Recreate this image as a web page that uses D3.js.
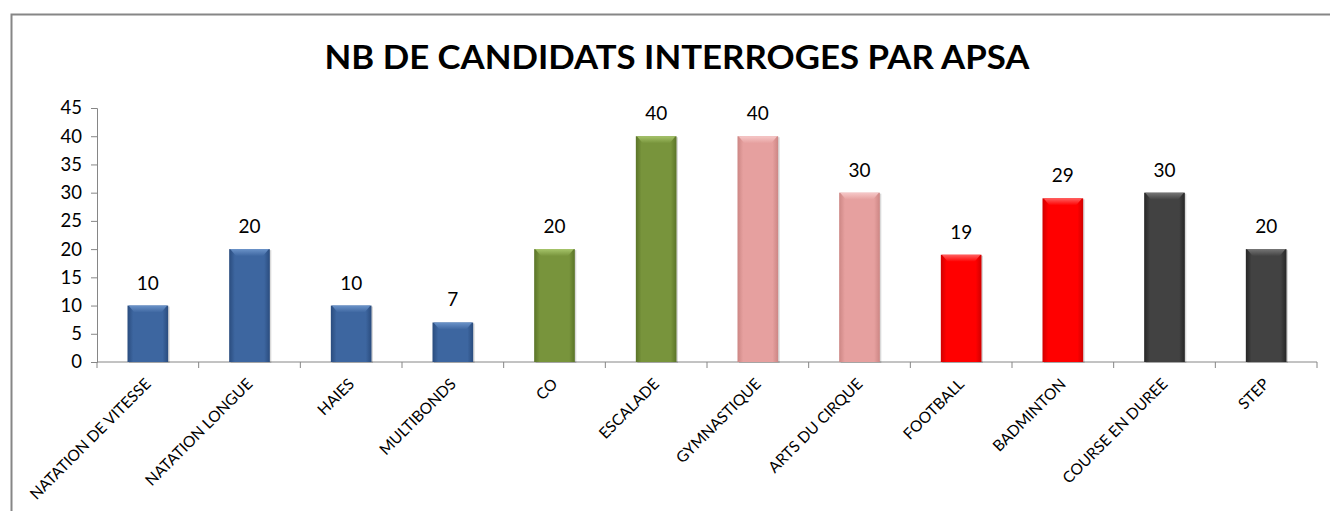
<!DOCTYPE html>
<html><head><meta charset="utf-8">
<script src="https://cdn.jsdelivr.net/npm/d3@7"></script>
<style>html,body{margin:0;padding:0;background:#fff;}svg{display:block;}</style>
</head><body>
<svg id="c" width="1330" height="511"></svg>
<script>
const categories = ["NATATION DE VITESSE","NATATION LONGUE","HAIES","MULTIBONDS","CO","ESCALADE","GYMNASTIQUE","ARTS DU CIRQUE","FOOTBALL","BADMINTON","COURSE EN DUREE","STEP"];
const values = [10,20,10,7,20,40,40,30,19,29,30,20];
const groups = ["blue","blue","blue","blue","green","green","pink","pink","red","red","gray","gray"];
const yTicks = [0,5,10,15,20,25,30,35,40,45];
const title = "NB DE CANDIDATS INTERROGES PAR APSA";

const palette = {
  blue: {edge:"#2A4C7E", mid:"#3D66A0", bevel:"#6A92C8"},
  green:{edge:"#5A7428", mid:"#78943C", bevel:"#A6C46A"},
  pink: {edge:"#CC8684", mid:"#E6A09F", bevel:"#F6C8C8"},
  red:  {edge:"#D00000", mid:"#FF0000", bevel:"#FF6060"},
  gray: {edge:"#262626", mid:"#424242", bevel:"#767676"}
};

const svg = d3.select("#c");
const font = "Lato, 'Open Sans', sans-serif";

// border
svg.append("rect").attr("x",11.5).attr("y",14.5).attr("width",1340).attr("height",520)
  .attr("fill","#fff").attr("stroke","#868686").attr("stroke-width",2);

const defs = svg.append("defs");
Object.entries(palette).forEach(([k,c])=>{
  const g = defs.append("linearGradient").attr("id","g-"+k).attr("x1","0").attr("x2","1").attr("y1","0").attr("y2","0");
  g.append("stop").attr("offset","0").attr("stop-color",c.edge);
  g.append("stop").attr("offset","0.14").attr("stop-color",c.mid);
  g.append("stop").attr("offset","0.86").attr("stop-color",c.mid);
  g.append("stop").attr("offset","1").attr("stop-color",c.edge);
  const b = defs.append("linearGradient").attr("id","b-"+k).attr("x1","0").attr("x2","0").attr("y1","0").attr("y2","1");
  b.append("stop").attr("offset","0").attr("stop-color",c.bevel);
  b.append("stop").attr("offset","1").attr("stop-color",c.mid);
});

const x = d3.scaleBand().domain(categories).range([97,1317]).paddingInner(0.6).paddingOuter(0.3);
const y = d3.scaleLinear().domain([0,45]).range([362,108]);

// title
svg.append("text").attr("x",677).attr("y",69).attr("text-anchor","middle")
  .attr("font-family",font).attr("font-weight","bold").attr("font-size",32)
  .attr("textLength",705).attr("lengthAdjust","spacingAndGlyphs")
  .attr("fill","#000").text(title);

// y axis
const yAxis = svg.append("g").attr("transform","translate(97,0)")
  .call(d3.axisLeft(y).tickValues(yTicks).tickSize(6).tickPadding(9));
yAxis.select(".domain").attr("stroke","#868686");
yAxis.selectAll(".tick line").attr("stroke","#868686");
yAxis.selectAll(".tick text").attr("font-family",font).attr("font-size",18.5).attr("fill","#000");

// x axis baseline + boundary ticks
const step = x.step();
const xg = svg.append("g");
xg.append("line").attr("x1",97).attr("x2",1317).attr("y1",y(0)).attr("y2",y(0)).attr("stroke","#868686");
d3.range(categories.length+1).forEach(i=>{
  const xx = 97 + i*step;
  xg.append("line").attr("x1",xx).attr("x2",xx).attr("y1",y(0)).attr("y2",y(0)+6).attr("stroke","#868686");
});

// bars
const bars = svg.append("g").selectAll("g").data(categories).join("g");
bars.append("rect")
  .attr("x",d=>x(d)+1.5).attr("y",(d,i)=>y(values[i])+1)
  .attr("width",x.bandwidth()).attr("height",(d,i)=>y(0)-y(values[i]))
  .attr("fill","rgba(0,0,0,0.15)");
bars.append("rect")
  .attr("x",d=>x(d)).attr("y",(d,i)=>y(values[i]))
  .attr("width",x.bandwidth()).attr("height",(d,i)=>y(0)-y(values[i]))
  .attr("fill",(d,i)=>`url(#g-${groups[i]})`);
bars.append("path")
  .attr("d",(d,i)=>{
    const x0=x(d), w=x.bandwidth(), t=y(values[i]), b=7;
    return `M${x0+1},${t}L${x0+w-1},${t}L${x0+w-b},${t+b}L${x0+b},${t+b}Z`;
  })
  .attr("fill",(d,i)=>`url(#b-${groups[i]})`);

// value labels
svg.append("g").selectAll("text").data(categories).join("text")
  .attr("x",d=>x(d)+x.bandwidth()/2).attr("y",(d,i)=>y(values[i])-16)
  .attr("text-anchor","middle").attr("font-family",font).attr("font-size",19).attr("fill","#000")
  .text((d,i)=>values[i]);

// x labels
svg.append("g").selectAll("text").data(categories).join("text")
  .attr("transform",d=>`translate(${x(d)+x.bandwidth()/2+4},${y(0)+23}) rotate(-45)`)
  .attr("text-anchor","end").attr("font-family",font).attr("font-size",15.5).attr("fill","#000")
  .text(d=>d);
</script>
</body></html>
